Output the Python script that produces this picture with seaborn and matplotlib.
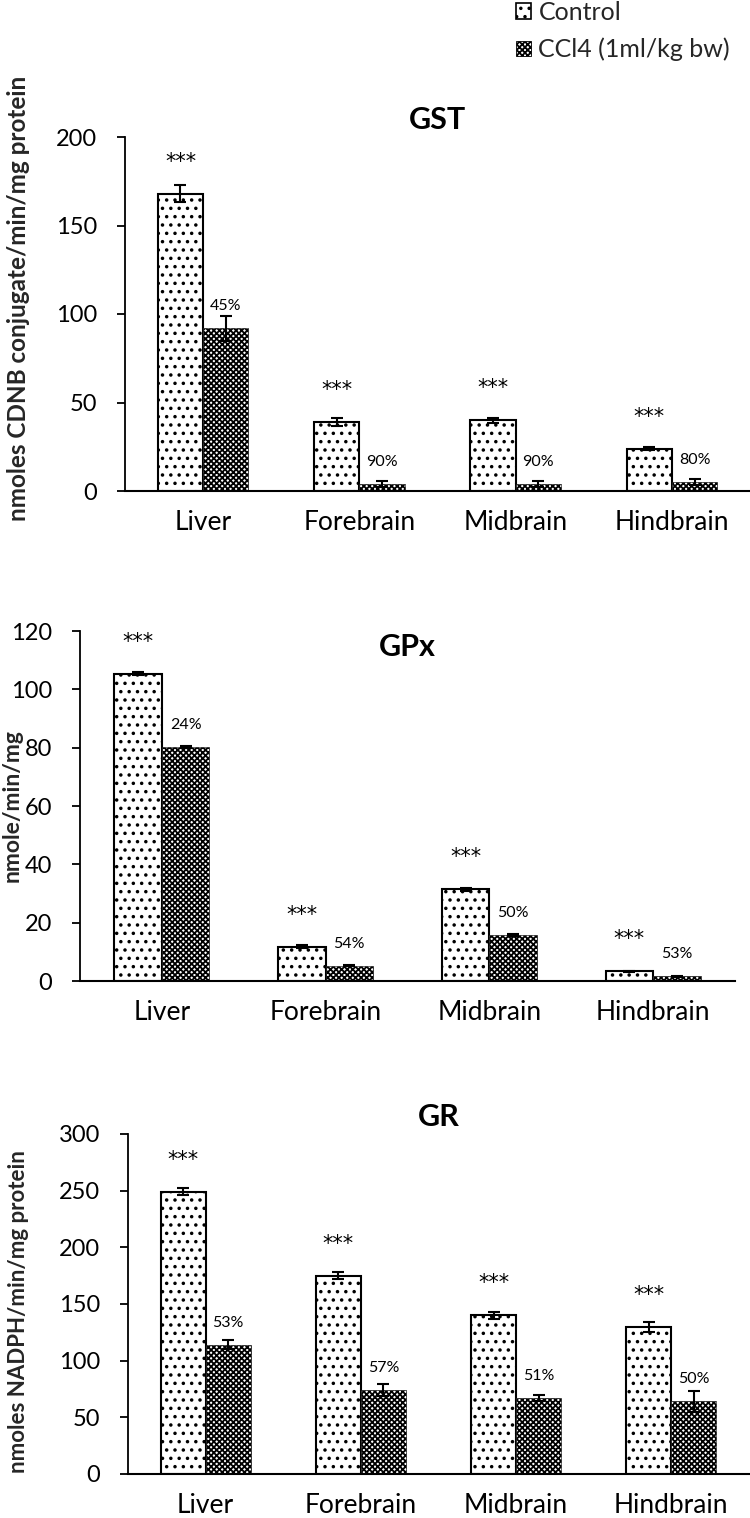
import numpy as np
import pandas as pd
import matplotlib
matplotlib.use("Agg")
import matplotlib.pyplot as plt
import matplotlib.patches as mpatches
import seaborn as sns

# ---------------- data ----------------
regions = ["Liver", "Forebrain", "Midbrain", "Hindbrain"]
groups = ["Control", "CCl4 (1ml/kg bw)"]

gst_control = [168, 39, 40, 24]
gst_control_err = [5, 2, 1.5, 1]
gst_ccl4 = [92, 4, 4, 5]
gst_ccl4_err = [7, 1.5, 1.5, 1.5]
gst_pct = ["45%", "90%", "90%", "80%"]

gpx_control = [105.3, 11.7, 31.5, 3.4]
gpx_control_err = [0.5, 0.5, 0.5, 0.2]
gpx_ccl4 = [80.2, 5.2, 15.8, 1.6]
gpx_ccl4_err = [0.4, 0.2, 0.2, 0.1]
gpx_pct = ["24%", "54%", "50%", "53%"]

gr_control = [249, 175, 140, 130]
gr_control_err = [3, 3, 3, 4.5]
gr_ccl4 = [114, 74, 67, 64]
gr_ccl4_err = [4, 5, 3, 9]
gr_pct = ["53%", "57%", "51%", "50%"]

sig_label = "***"

# ---------------- style ----------------
sns.set_theme(style="white")
plt.rcParams["font.family"] = ["Lato", "DejaVu Sans"]
plt.rcParams["hatch.linewidth"] = 1.3

W, H = 750, 1518
fig = plt.figure(figsize=(W / 100, H / 100), dpi=100)

CTRL_HATCH = ".."
CCL4_HATCH = "xxxxxx"


def panel(rect, ctrl, ctrl_err, ccl4, ccl4_err, pct, ymax, ystep, title, title_y):
    ax = fig.add_axes(rect)
    df = pd.DataFrame({
        "Region": regions * 2,
        "Group": [groups[0]] * len(regions) + [groups[1]] * len(regions),
        "Value": list(ctrl) + list(ccl4),
    })
    sns.barplot(data=df, x="Region", y="Value", hue="Group", order=regions,
                hue_order=groups, width=0.58, gap=0, errorbar=None,
                palette=["white", "white"], legend=False, ax=ax)
    c_ctrl, c_ccl4 = ax.containers[0], ax.containers[1]
    for p in c_ctrl:
        p.set_facecolor("white")
        p.set_edgecolor("black")
        p.set_linewidth(1.5)
        p.set_hatch(CTRL_HATCH)
    for p in c_ccl4:
        p.set_facecolor("white")
        p.set_edgecolor("black")
        p.set_linewidth(0.4)
        p.set_hatch(CCL4_HATCH)

    xc = [p.get_x() + p.get_width() / 2 for p in c_ctrl]
    xk = [p.get_x() + p.get_width() / 2 for p in c_ccl4]
    ax.errorbar(xc, ctrl, yerr=ctrl_err, fmt="none", ecolor="black",
                elinewidth=1.5, capsize=4, capthick=1.5, zorder=5)
    ax.errorbar(xk, ccl4, yerr=ccl4_err, fmt="none", ecolor="black",
                elinewidth=1.5, capsize=4, capthick=1.5, zorder=5)

    for x, v in zip(xc, ctrl):
        ax.annotate(sig_label, xy=(x, v), xytext=(0, 23), textcoords="offset points",
                    ha="center", va="center", fontsize=15, color="black",
                    family="DejaVu Sans")
    for x, v, t in zip(xk, ccl4, pct):
        ax.annotate(t, xy=(x, v), xytext=(0, 16), textcoords="offset points",
                    ha="center", va="center", fontsize=11.5, color="black")

    ax.set_ylim(0, ymax)
    ax.set_xlim(-0.5, len(regions) - 0.5)
    ax.set_yticks(np.arange(0, ymax + 0.1, ystep))
    ax.set_xlabel("")
    ax.set_ylabel("")
    for s in ["top", "right"]:
        ax.spines[s].set_visible(False)
    ax.spines["left"].set_color("black")
    ax.spines["left"].set_linewidth(1.3)
    ax.spines["bottom"].set_color("black")
    ax.spines["bottom"].set_linewidth(1.5)
    ax.tick_params(axis="y", direction="out", length=6, width=1.3, pad=14,
                   labelsize=17, colors="black", left=True)
    ax.tick_params(axis="x", length=0, pad=14, labelsize=19, colors="black")
    ax.set_facecolor("white")
    ax.text(0.5, title_y, title, transform=ax.transAxes, ha="center", va="center",
            fontsize=22, fontweight="bold", color="black")
    return ax


def frect(left, top, right, bottom):
    return [left / W, 1 - bottom / H, (right - left) / W, (bottom - top) / H]


panel(frect(125, 137, 750, 491), gst_control, gst_control_err, gst_ccl4, gst_ccl4_err,
      gst_pct, 200, 50, "GST", 1.048)
panel(frect(80, 631, 735, 981), gpx_control, gpx_control_err, gpx_ccl4, gpx_ccl4_err,
      gpx_pct, 120, 20, "GPx", 0.954)
panel(frect(128, 1134, 749, 1474), gr_control, gr_control_err, gr_ccl4, gr_ccl4_err,
      gr_pct, 300, 50, "GR", 1.05)

fig.text(19 / W, 1 - 298 / H, "nmoles CDNB conjugate/min/mg protein", rotation=90,
         ha="center", va="center", fontsize=17.5, fontweight="bold")
fig.text(12 / W, 1 - 806 / H, "nmole/min/mg", rotation=90,
         ha="center", va="center", fontsize=16.5, fontweight="bold")
fig.text(19 / W, 1 - 1312 / H, "nmoles NADPH/min/mg protein", rotation=90,
         ha="center", va="center", fontsize=16, fontweight="bold")

handles = [
    mpatches.Patch(facecolor="white", edgecolor="black", linewidth=1.2, hatch=CTRL_HATCH),
    mpatches.Patch(facecolor="white", edgecolor="black", linewidth=0.6, hatch=CCL4_HATCH),
]
fig.legend(handles=handles, labels=groups, loc="upper left",
           bbox_to_anchor=(516 / W, 1.0 - 1 / H), frameon=False, fontsize=18,
           handlelength=0.6, handleheight=0.6, handletextpad=0.3,
           labelspacing=0.55, borderpad=0.0, borderaxespad=0.0)

fig.savefig("out.png", dpi=100, facecolor="white")
